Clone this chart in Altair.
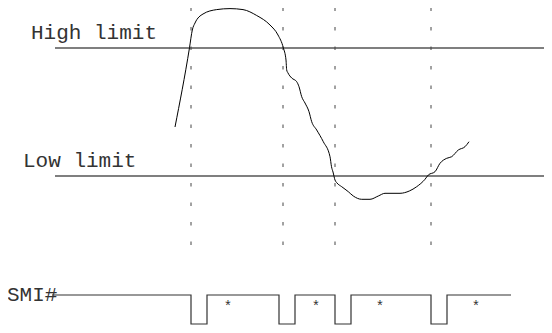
import altair as alt
import pandas as pd

# ---- data (diagram units ~ page pixels) ----
limit_names = ["High limit", "Low limit"]
limit_levels = [48, 176]
limit_start = 55
limit_end = 552
label_x = [31, 23]
label_y = [39, 167]

event_times = [191, 283, 335, 431]          # dashed markers
marker_top, marker_bottom = 7.5, 246

curve_x = [175, 189.5, 192.3, 195, 203, 216.7, 230, 243, 256.7, 270, 278, 283.3, 286, 286.7,
           288, 291.7, 296.7, 299, 301.7, 305, 309, 311.7, 316.7, 323.3, 330, 331.5, 333,
           335, 337, 341.7, 348.3, 353.3, 361.7, 370, 378.3, 385, 400, 409.3, 416.7, 425,
           428.3, 435, 440, 446.7, 451.7, 458.3, 465, 469]
curve_y = [127, 47.7, 30, 23, 14, 9.6, 8.6, 9.6, 15.5, 25, 35, 47.7, 60, 70,
           73, 78, 81.7, 86.7, 96.7, 103, 111.7, 121.7, 130, 141.7, 156.7, 166.7, 172,
           180, 183, 186.7, 191.7, 196, 199.3, 199.3, 196, 193.3, 193.3, 191, 186.7, 179.3,
           175, 171.7, 163.3, 158.3, 156.7, 150, 146.7, 141.7]

smi_high, smi_low = 295, 324
smi_start, smi_end = 52, 511
smi_fall = [191, 279, 335, 431]
smi_rise = [207, 295, 351, 447]
star_x = [228, 316, 380, 476]
star_y = 311

# ---- tables ----
limits = pd.DataFrame({"name": limit_names, "y": limit_levels,
                       "x": [limit_start] * 2, "x2": [limit_end] * 2,
                       "lx": label_x, "ly": label_y})
markers = pd.DataFrame({"x": event_times, "y": [marker_top] * 4, "y2": [marker_bottom] * 4})
curve = pd.DataFrame({"x": curve_x, "y": curve_y, "i": range(len(curve_x))})

wx, wy = [smi_start], [smi_high]
for f, r in zip(smi_fall, smi_rise):
    wx += [f, f, r, r]
    wy += [smi_high, smi_low, smi_low, smi_high]
wx.append(smi_end)
wy.append(smi_high)
wave = pd.DataFrame({"x": wx, "y": wy, "i": range(len(wx))})
stars = pd.DataFrame({"x": star_x, "y": [star_y] * 4, "t": ["*"] * 4})
smi_label = pd.DataFrame({"x": [7], "y": [301], "t": ["SMI#"]})

X = alt.Scale(domain=[8, 544], nice=False, zero=False)
Y = alt.Scale(domain=[8, 325], reverse=True, nice=False, zero=False)
xe = lambda f="x": alt.X(f"{f}:Q", scale=X, axis=None)
ye = lambda f="y": alt.Y(f"{f}:Q", scale=Y, axis=None)
FONT = "Liberation Mono"

limit_rules = alt.Chart(limits).mark_rule(color="#555", strokeWidth=1.4).encode(
    x=xe(), x2="x2:Q", y=ye())
limit_text = alt.Chart(limits).mark_text(
    align="left", baseline="alphabetic", font=FONT, fontSize=21, color="#333"
).encode(x=xe("lx"), y=ye("ly"), text="name:N")
marker_rules = alt.Chart(markers).mark_rule(
    color="#444", strokeWidth=1, strokeDash=[3.5, 16]).encode(x=xe(), y=ye(), y2="y2:Q")
curve_line = alt.Chart(curve).mark_line(color="black", strokeWidth=1,
                                        interpolate="monotone").encode(
    x=xe(), y=ye(), order="i:Q")
wave_line = alt.Chart(wave).mark_line(color="#333", strokeWidth=1.2).encode(
    x=xe(), y=ye(), order="i:Q")
star_text = alt.Chart(stars).mark_text(font=FONT, fontSize=14, color="#333",
                                       baseline="alphabetic").encode(
    x=xe(), y=ye(), text="t:N")
smi_text = alt.Chart(smi_label).mark_text(
    align="left", baseline="alphabetic", font=FONT, fontSize=21, color="#333"
).encode(x=xe(), y=ye(), text="t:N")

chart = alt.layer(limit_rules, marker_rules, curve_line, wave_line,
                  limit_text, smi_text, star_text).properties(
    width=536, height=317, padding=0,
    autosize=alt.AutoSizeParams(type="none")
).configure_view(stroke=None)

chart.save("out.html", embed_options={"renderer": "svg", "actions": False})
